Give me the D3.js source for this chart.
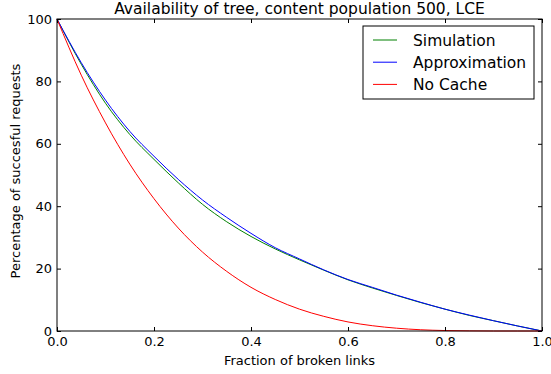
<!DOCTYPE html>
<html>
<head>
<meta charset="utf-8">
<script src="https://cdn.jsdelivr.net/npm/d3@7/dist/d3.min.js"></script>
<style>
  html, body { margin: 0; padding: 0; background: #fff; }
  svg { display: block; font-family: "DejaVu Sans", sans-serif; }
</style>
</head>
<body>
<svg id="chart" width="551" height="374"></svg>
<script>
// fraction of broken links (x samples)
const fractions = [0, 0.05, 0.1, 0.15, 0.2, 0.25, 0.3, 0.35, 0.4, 0.45, 0.5,
                   0.55, 0.6, 0.65, 0.7, 0.75, 0.8, 0.85, 0.9, 0.95, 1.0];

// percentage of successful requests
const simulation = [100, 85.5, 73, 63, 55, 47.5, 40.6, 35, 30.3, 26.3, 22.8,
                    19.5, 16.4, 13.8, 11.4, 9.1, 7, 5, 3.3, 1.6, 0];
const approximation = [100, 86, 74, 64, 56, 48.6, 42, 36.4, 31.3, 26.7, 23.1,
                       19.6, 16.5, 14, 11.5, 9.2, 7, 5.1, 3.3, 1.6, 0];
const noCache = [100, 82, 66.7, 53.5, 42.4, 33, 25.3, 19.1, 14, 10.1, 7,
                 4.7, 2.9, 1.7, 0.9, 0.4, 0.15, 0.05, 0, 0, 0];

const seriesNames = ['Simulation', 'Approximation', 'No Cache'];
const seriesColors = ['#008000', '#0000ff', '#ff0000'];
const seriesValues = [simulation, approximation, noCache];

const xTicks = [0, 0.2, 0.4, 0.6, 0.8, 1.0];
const yTicks = [0, 20, 40, 60, 80, 100];

const titleText = 'Availability of tree, content population 500, LCE';
const xLabel = 'Fraction of broken links';
const yLabel = 'Percentage of succesful requests';

// plot box in pixels
const margin = { left: 57, top: 19, right: 9, bottom: 43 };
const W = 551, H = 374;
const pw = W - margin.left - margin.right;
const ph = H - margin.top - margin.bottom;

const svg = d3.select('#chart');
const g = svg.append('g').attr('transform', `translate(${margin.left},${margin.top})`);

const x = d3.scaleLinear().domain([0, 1]).range([0, pw]);
const y = d3.scaleLinear().domain([0, 100]).range([ph, 0]);

// lines
const line = d3.line()
  .x((d, i) => x(fractions[i]))
  .y(d => y(d))
  .curve(d3.curveMonotoneX);

seriesValues.forEach((vals, i) => {
  g.append('path')
    .datum(vals)
    .attr('d', line)
    .attr('fill', 'none')
    .attr('stroke', seriesColors[i])
    .attr('stroke-width', 1);
});

// axes: ticks pointing inward on all four sides
const fmtX = d3.format('.1f');
const tickLen = 4;

g.append('g')
  .attr('transform', `translate(0,${ph})`)
  .call(d3.axisBottom(x).tickValues(xTicks).tickFormat(fmtX).tickSizeInner(-tickLen).tickSizeOuter(0).tickPadding(6));
g.append('g')
  .call(d3.axisTop(x).tickValues(xTicks).tickFormat('').tickSizeInner(-tickLen).tickSizeOuter(0));
g.append('g')
  .call(d3.axisLeft(y).tickValues(yTicks).tickFormat(d3.format('d')).tickSizeInner(-tickLen).tickSizeOuter(0).tickPadding(5));
g.append('g')
  .attr('transform', `translate(${pw},0)`)
  .call(d3.axisRight(y).tickValues(yTicks).tickFormat('').tickSizeInner(-tickLen).tickSizeOuter(0));

g.selectAll('.domain').remove();
g.selectAll('.tick line').attr('stroke', '#000').attr('stroke-width', 1);
g.selectAll('.tick text').attr('font-size', 13).attr('fill', '#000').attr('font-family', '"DejaVu Sans", sans-serif');

// frame
g.append('rect')
  .attr('x', 0).attr('y', 0)
  .attr('width', pw).attr('height', ph)
  .attr('fill', 'none')
  .attr('stroke', '#000')
  .attr('stroke-width', 1);

// title and labels
svg.append('text')
  .attr('x', margin.left + pw / 2).attr('y', 14)
  .attr('text-anchor', 'middle')
  .attr('font-size', 15.5)
  .text(titleText);

svg.append('text')
  .attr('x', margin.left + pw / 2).attr('y', 365)
  .attr('text-anchor', 'middle')
  .attr('font-size', 13)
  .text(xLabel);

svg.append('text')
  .attr('transform', `translate(19.5,171) rotate(-90)`)
  .attr('text-anchor', 'middle')
  .attr('font-size', 13)
  .text(yLabel);

// legend
const legend = svg.append('g').attr('transform', 'translate(363,26)');
legend.append('rect')
  .attr('width', 171).attr('height', 73)
  .attr('fill', '#fff')
  .attr('stroke', '#000')
  .attr('stroke-width', 1);

seriesNames.forEach((name, i) => {
  const ly = 14 + i * 22.2;
  legend.append('line')
    .attr('x1', 10).attr('x2', 34)
    .attr('y1', ly).attr('y2', ly)
    .attr('stroke', seriesColors[i])
    .attr('stroke-width', 1);
  legend.append('text')
    .attr('x', 50).attr('y', ly + 5.7)
    .attr('font-size', 15.5)
    .text(name);
});
</script>
</body>
</html>
